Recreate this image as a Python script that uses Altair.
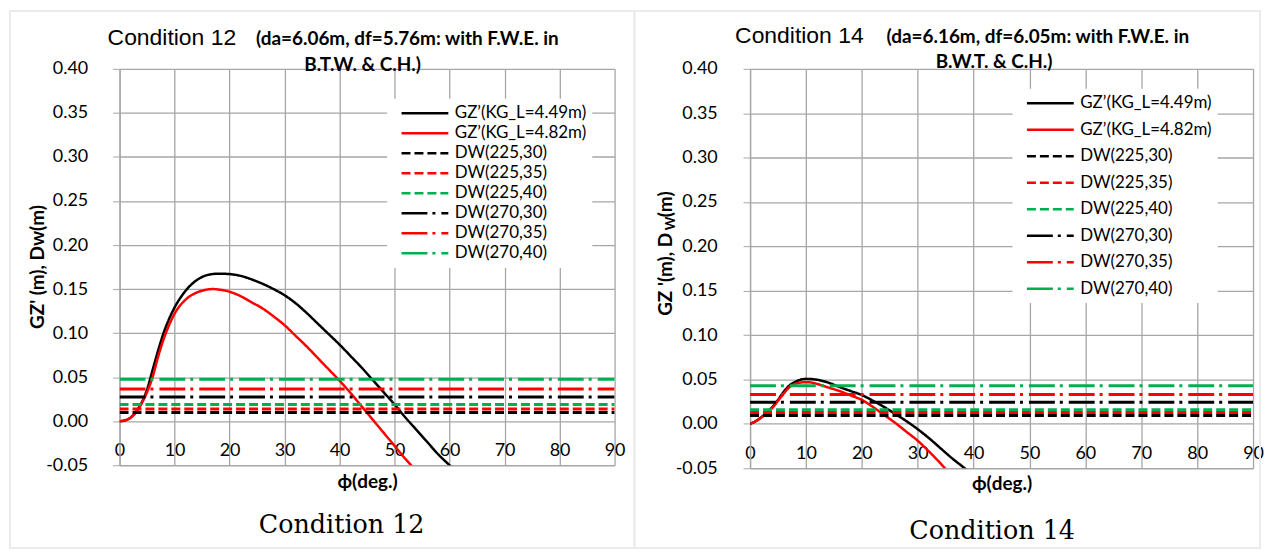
import altair as alt
import pandas as pd

# ---------------- data ----------------
series_names = ["GZ’(KG_L=4.49m)", "GZ’(KG_L=4.82m)", "DW(225,30)", "DW(225,35)",
                "DW(225,40)", "DW(270,30)", "DW(270,35)", "DW(270,40)"]
series_colors = ["#000000", "#ff0000", "#000000", "#ff0000", "#00b050",
                 "#000000", "#ff0000", "#00b050"]
series_dashes = [[1, 0], [1, 0], [9, 4], [9, 4], [9, 4],
                 [26, 5, 3, 6], [26, 5, 3, 6], [26, 5, 3, 6]]
dw_names = series_names[2:]

# Condition 12
c12_phi_a = [0, 1, 2, 3, 4, 5, 6, 7, 8, 9, 10, 12, 14, 16, 18, 20, 22, 24, 26, 28, 30,
             32, 34, 36, 38, 40, 42, 44, 46, 48, 50, 52, 54, 56, 58, 60, 61]
c12_gz_a = [0, 0.001, 0.004, 0.011, 0.021, 0.036, 0.058, 0.080, 0.100, 0.116, 0.129,
            0.148, 0.160, 0.166, 0.1675, 0.167, 0.165, 0.161, 0.156, 0.150, 0.143,
            0.134, 0.123, 0.111, 0.099, 0.087, 0.074, 0.061, 0.047, 0.033, 0.019,
            0.004, -0.010, -0.024, -0.038, -0.050, -0.056]
c12_phi_b = [0, 1, 2, 3, 4, 5, 6, 7, 8, 9, 10, 12, 14, 16, 17, 18, 20, 22, 24, 26, 28,
             30, 32, 34, 36, 38, 40, 42, 44, 46, 48, 50, 52, 53, 54]
c12_gz_b = [0, 0.001, 0.004, 0.010, 0.020, 0.033, 0.050, 0.073, 0.093, 0.109, 0.122,
            0.138, 0.146, 0.1495, 0.150, 0.1495, 0.147, 0.142, 0.135, 0.128, 0.119,
            0.109, 0.097, 0.085, 0.072, 0.059, 0.046, 0.032, 0.017, 0.002, -0.013,
            -0.028, -0.043, -0.050, -0.057]
c12_dw = [0.010, 0.014, 0.019, 0.0275, 0.0365, 0.0477]

# Condition 14
c14_phi_a = [0, 1, 2, 3, 4, 5, 6, 7, 8, 9, 10, 11, 12, 14, 16, 18, 20, 22, 24, 26, 28,
             30, 32, 34, 36, 38, 39]
c14_gz_a = [0, 0.003, 0.0075, 0.013, 0.019, 0.027, 0.036, 0.043, 0.047, 0.0497, 0.0507,
            0.0505, 0.0497, 0.0465, 0.0415, 0.037, 0.0325, 0.026, 0.019, 0.011, 0.003,
            -0.006, -0.016, -0.027, -0.038, -0.048, -0.053]
c14_phi_b = [0, 1, 2, 3, 4, 5, 6, 7, 8, 9, 10, 11, 12, 14, 16, 18, 20, 22, 24, 26, 28,
             30, 32, 34, 35]
c14_gz_b = [0, 0.003, 0.007, 0.012, 0.018, 0.026, 0.034, 0.041, 0.045, 0.0465, 0.047,
            0.0465, 0.045, 0.041, 0.037, 0.032, 0.027, 0.019, 0.010, 0.001, -0.009,
            -0.019, -0.031, -0.044, -0.051]
c14_dw = [0.0093, 0.0127, 0.016, 0.0243, 0.0332, 0.0429]

x_ticks = [0, 10, 20, 30, 40, 50, 60, 70, 80, 90]
y_ticks = [-0.05, 0.0, 0.05, 0.10, 0.15, 0.20, 0.25, 0.30, 0.35, 0.40]

one = pd.DataFrame({"k": [0]})

GRID = "#a6a6a6"


def curves_df(phi_a, gz_a, phi_b, gz_b):
    rows = []
    for p, v in zip(phi_a, gz_a):
        rows.append({"phi": p, "val": v, "series": series_names[0]})
    for p, v in zip(phi_b, gz_b):
        rows.append({"phi": p, "val": v, "series": series_names[1]})
    return pd.DataFrame(rows)


def dw_df(vals):
    rows = []
    for name, v in zip(dw_names, vals):
        rows.append({"phi": x_ticks[0], "val": v, "series": name})
        rows.append({"phi": x_ticks[-1], "val": v, "series": name})
    return pd.DataFrame(rows)


def txt(s, x, y, font, size, weight="normal", align="left", baseline="alphabetic", angle=0):
    return alt.Chart(one).mark_text(
        text=s, font=font, fontSize=size, fontWeight=weight, align=align,
        baseline=baseline, angle=angle, color="black"
    ).encode(x=alt.value(x), y=alt.value(y))


def panel(cdf, ddf, W, H, legend_xy, rowpad, ylabpad, texts, frame, xtitlepad):
    leg = alt.Legend(title=None, orient="none", legendX=legend_xy[0], legendY=legend_xy[1],
                     fillColor="white", padding=6, rowPadding=rowpad,
                     labelFont="Lato", labelFontSize=17, labelColor="black", labelAlign="left",
                     labelOffset=45, labelLimit=400, symbolType="M0,0H47", symbolSize=4,
                     symbolStrokeWidth=2.5)
    x_enc = alt.X("phi:Q", scale=alt.Scale(domain=[0, 90], nice=False),
                  axis=alt.Axis(values=x_ticks, format="d", title="ϕ(deg.)",
                                ticks=False, domain=False, labelPadding=-15,
                                labelBaseline="middle", labelFlush=False,
                                titlePadding=xtitlepad, grid=True))
    y_enc = alt.Y("val:Q", scale=alt.Scale(domain=[-0.05, 0.40], nice=False, zero=False),
                  axis=alt.Axis(values=y_ticks, title=None, tickSize=7,
                                labelPadding=ylabpad, labelFlush=False, grid=True,
                                labelExpr="datum.value < 0 ? '-' + format(-datum.value, '.2f') : format(datum.value, '.2f')"))
    col = alt.Color("series:N", scale=alt.Scale(domain=series_names, range=series_colors), legend=leg)
    dash = alt.StrokeDash("series:N", scale=alt.Scale(domain=series_names, range=series_dashes), legend=leg)

    fr = alt.Chart(one).mark_rect(fillOpacity=0, stroke="#ebebeb", strokeWidth=2).encode(
        x=alt.value(frame[0]), x2=alt.value(frame[1]), y=alt.value(frame[2]), y2=alt.value(frame[3]))
    gz = alt.Chart(cdf).mark_line(strokeWidth=2.5, clip=True, interpolate="monotone",
                                  strokeCap="butt").encode(x=x_enc, y=y_enc, color=col, strokeDash=dash)
    dw = alt.Chart(ddf).mark_line(strokeWidth=3, clip=True, strokeCap="butt").encode(
        x=x_enc, y=y_enc, color=col, strokeDash=dash)
    return alt.layer(fr, gz, dw, *texts).properties(width=W, height=H)


left_texts = [
    txt("Condition 12", -12, -24, "Liberation Sans", 23),
    txt("(da=6.06m, df=5.76m: with F.W.E. in", 137, -24, "Lato", 19, "bold"),
    txt("B.T.W. & C.H.)", 244, 2, "Lato", 19, "bold", align="center"),
    txt("GZ' (m), Dw(m)", -82, 199, "Lato", 19, "bold", align="center",
        baseline="middle", angle=270),
    txt("Condition 12", 223, 458, "DejaVu Serif", 25.5, align="center", baseline="middle"),
]

right_texts = [
    txt("Condition 14", -15, -26, "Liberation Sans", 23),
    txt("(da=6.16m, df=6.05m: with F.W.E. in", 137, -26, "Lato", 19, "bold"),
    txt("B.W.T. & C.H.)", 245, -1, "Lato", 19, "bold", align="center"),
    txt("GZ '(m), D", -84, 248, "Lato", 19, "bold", align="left",
        baseline="middle", angle=270),
    txt("W", -79, 162, "Lato", 13, "bold", align="left", baseline="middle", angle=270),
    txt("(m)", -84, 149, "Lato", 19, "bold", align="left", baseline="middle", angle=270),
    txt("Condition 14", 243, 464, "DejaVu Serif", 25.5, align="center", baseline="middle"),
]

left = panel(curves_df(c12_phi_a, c12_gz_a, c12_phi_b, c12_gz_b), dw_df(c12_dw),
             497, 398, (268.6, 30), 2.1, 25, left_texts, (-110, 517, -58, 481), 7)
right = panel(curves_df(c14_phi_a, c14_gz_a, c14_phi_b, c14_gz_b), dw_df(c14_dw),
              505, 401, (263.5, 20), 8.6, 26, right_texts, (-116, 512, -58, 481), 6)

chart = alt.hconcat(left, right, spacing=136, bounds="flush", padding=0).resolve_scale(
    color="independent", strokeDash="independent", x="independent", y="independent"
).resolve_legend(color="independent", strokeDash="independent").configure_view(
    stroke="transparent"
).configure_axis(
    labelFont="Lato", labelFontSize=18, labelColor="black",
    gridColor=GRID, gridWidth=1.3, domainColor=GRID, tickColor=GRID, domainWidth=1.3,
    titleFont="Lato", titleFontSize=19, titleFontWeight="bold", titleColor="black"
).configure_legend(labelFont="Lato", labelFontSize=17, labelColor="black", labelAlign="left")

chart.save("out.html", embed_options={"renderer": "svg", "actions": False})
